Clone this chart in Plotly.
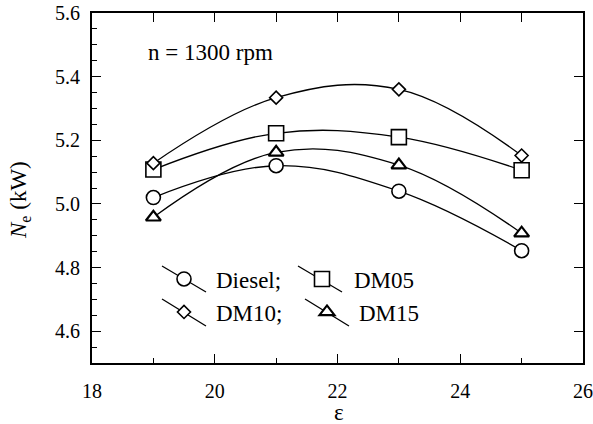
import plotly.graph_objects as go

# ---- data ----
eps = [19, 21, 23, 25]
diesel = [5.02, 5.12, 5.04, 4.853]
dm05 = [5.108, 5.222, 5.21, 5.106]
dm10 = [5.128, 5.334, 5.36, 5.152]
dm15 = [4.958, 5.162, 5.122, 4.908]

series_names = ["Diesel;", "DM05", "DM10;", "DM15"]
series_vals = [diesel, dm05, dm10, dm15]
symbols = ["circle", "square", "diamond", "triangle-up"]
msizes = [14, 15, 10, 13]

x_ticks = [18, 20, 22, 24, 26]
y_ticks = [4.6, 4.8, 5.0, 5.2, 5.4, 5.6]

FONT = "Liberation Serif"
W, H = 593, 424
ML, MR, MT, MB = 92, 10, 13, 61
PW, PH = W - ML - MR, H - MT - MB


def px(xp):
    return (xp - ML) / PW


def py(yp):
    return (H - MB - yp) / PH


fig = go.Figure()

legend_ids = ["legend", "legend2", "legend3", "legend4"]
for name, vals, sym, ms, lg in zip(series_names, series_vals, symbols, msizes, legend_ids):
    fig.add_trace(go.Scatter(
        x=eps, y=vals, mode="lines",
        line=dict(color="black", width=1.3, shape="spline", smoothing=1.1),
        showlegend=False, hoverinfo="skip"))
    fig.add_trace(go.Scatter(
        x=eps, y=vals, mode="markers", name=name, legend=lg,
        marker=dict(symbol=sym, size=ms, color="white",
                    line=dict(color="black", width=2.2 if sym == "triangle-up" else 1.6))))

fig.add_trace(go.Scatter(x=[None], y=[None], xaxis="x2", yaxis="y2", showlegend=False))

leg_pos = {
    "legend": (152, 279),
    "legend2": (290, 279),
    "legend3": (152, 312),
    "legend4": (295, 312),
}
leg_common = dict(font=dict(family=FONT, size=23, color="black"), bgcolor="rgba(0,0,0,0)",
                  xanchor="left", yanchor="middle", itemwidth=54, borderwidth=0)
layout_legends = {}
for k, (lx, ly) in leg_pos.items():
    layout_legends[k] = dict(x=px(lx), y=py(ly), **leg_common)

seg = [((162, 266), (206, 292)), ((298, 266), (342, 292)),
       ((162, 299), (206, 326)), ((305, 299), (349, 326))]
shapes = []
for (x0, y0), (x1, y1) in seg:
    shapes.append(dict(type="line", xref="paper", yref="paper",
                       x0=px(x0), y0=py(y0), x1=px(x1), y1=py(y1),
                       line=dict(color="black", width=1.3), layer="below"))

axis_common = dict(showgrid=False, zeroline=False, showline=True, linecolor="black",
                   linewidth=1.8, ticks="inside", tickcolor="black", tickwidth=1.3)

fig.update_layout(
    template="none",
    width=W, height=H,
    margin=dict(l=ML, r=MR, t=MT, b=MB, pad=0),
    paper_bgcolor="white", plot_bgcolor="white",
    font=dict(family=FONT, size=20, color="black"),
    xaxis=dict(range=[18, 26], tickvals=x_ticks, ticklen=9, ticklabelstandoff=9,
               ticklabeloverflow="allow",
               minor=dict(dtick=1, ticklen=5, ticks="inside", tickcolor="black", tickwidth=1.3),
               tickfont=dict(family=FONT, size=20), **axis_common),
    yaxis=dict(range=[4.5, 5.6], tickvals=y_ticks, tickformat=".1f", ticklen=9,
               ticklabelstandoff=6, ticklabeloverflow="allow",
               minor=dict(dtick=0.05, tick0=4.5, ticklen=5, ticks="inside", tickcolor="black", tickwidth=1.3),
               tickfont=dict(family=FONT, size=20), **axis_common),
    xaxis2=dict(range=[18, 26], overlaying="x", side="top", dtick=1, tick0=18, ticklen=9,
                showticklabels=False, anchor="y", **axis_common),
    yaxis2=dict(range=[4.5, 5.6], overlaying="y", side="right", tickvals=y_ticks, ticklen=9,
                showticklabels=False, anchor="x", **axis_common),
    shapes=shapes,
    annotations=[
        dict(text="n = 1300 rpm", xref="paper", yref="paper", x=px(146), y=py(52),
             xanchor="left", yanchor="middle", showarrow=False,
             font=dict(family=FONT, size=23)),
        dict(text="<i>N</i><sub>e</sub> (kW)", xref="paper", yref="paper", x=px(20), y=py(200),
             xanchor="center", yanchor="middle", textangle=-90, showarrow=False,
             font=dict(family=FONT, size=23)),
        dict(text="ε", xref="paper", yref="paper", x=px(339), y=py(412),
             xanchor="center", yanchor="middle", showarrow=False,
             font=dict(family=FONT, size=23)),
    ],
    **layout_legends,
)

fig.write_html("out.html")
